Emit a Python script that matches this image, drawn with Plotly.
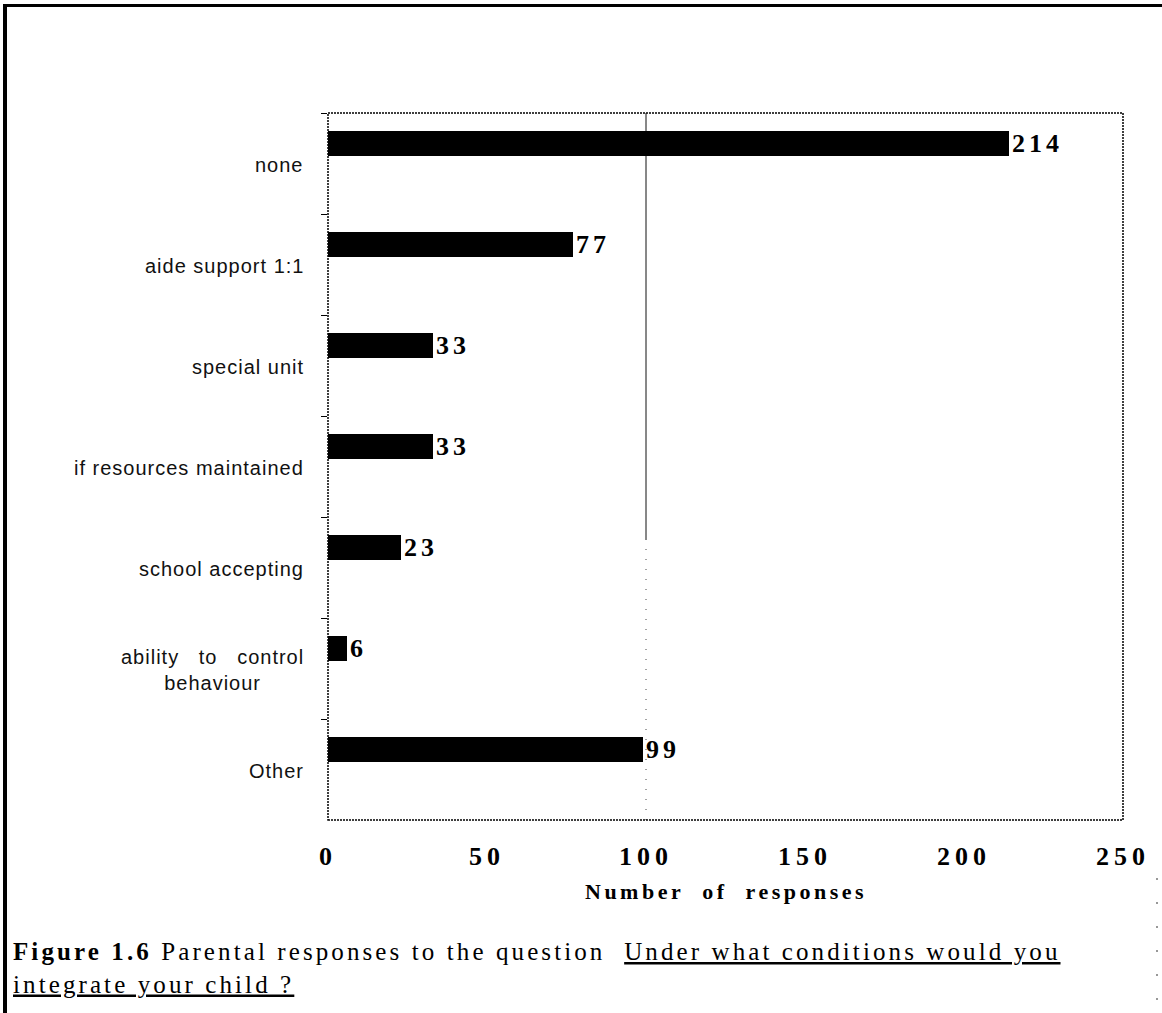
import plotly.graph_objects as go

# Survey results: conditions under which parents would integrate their child
categories = [
    "none",
    "aide support 1:1",
    "special unit",
    "if resources maintained",
    "school accepting",
    "ability to control behaviour",
    "Other",
]
category_labels = [
    "none",
    "aide support 1:1",
    "special unit",
    "if resources maintained",
    "school accepting",
    "ability\u00a0\u00a0 to\u00a0\u00a0 control<br>behaviour",
    "Other",
]
responses = [214, 77, 33, 33, 23, 6, 99]

x_tick_values = [0, 50, 100, 150, 200, 250]
x_tick_labels = ["0", "50", "100", "150", "200", "250"]
reference_value = 100

# Page geometry (pixels)
W, H = 1162, 1013
ML, MR, MT, MB = 328, 39, 113, 193
PW, PH = W - ML - MR, H - MT - MB


def px_x(px):
    return (px - ML) / PW


def px_y(py):
    return (H - MB - py) / PH


SERIF = "Liberation Serif, Times New Roman, serif"
SANS = "Liberation Sans, Arial, Helvetica, sans-serif"


def spaced(s, ls):
    return f'<span style="letter-spacing:{ls}px">{s}</span>'


fig = go.Figure()
fig.add_trace(
    go.Bar(
        x=responses,
        y=categories,
        orientation="h",
        width=0.25,
        offset=-0.32,
        marker=dict(color="#000000", line=dict(width=0)),
        text=[spaced(str(v), 4) for v in responses],
        textposition="outside",
        textfont=dict(family=SERIF, size=26, color="#000000", weight="bold"),
        constraintext="none",
        cliponaxis=False,
        hoverinfo="skip",
    )
)

annotations = []
# Category labels, right-aligned against the axis, lines centred
for cat, lab in zip(categories, category_labels):
    annotations.append(
        dict(
            x=px_x(306), xref="paper", xanchor="right",
            y=cat, yref="y", yanchor="middle", yshift=-1,
            text=spaced(lab, 1), showarrow=False, align="center",
            font=dict(family=SANS, size=20, color="#111111"),
        )
    )

# Axis title
annotations.append(
    dict(
        x=0.5, xref="paper", xanchor="center",
        y=px_y(891), yref="paper", yanchor="middle",
        text=spaced("<b>Number\u00a0 of\u00a0 responses</b>", 3.5),
        showarrow=False,
        font=dict(family=SERIF, size=22, color="#000000"),
    )
)

# Caption
caption = (
    "<b>Figure 1.6</b> Parental responses to the question\u00a0 "
    '<span style="text-decoration:underline">Under what conditions would you</span>'
    '<br><span style="text-decoration:underline">integrate your child ?</span>'
)
annotations.append(
    dict(
        x=px_x(11), xref="paper", xanchor="left",
        y=px_y(936), yref="paper", yanchor="top",
        text=spaced(caption, 3.1), showarrow=False, align="left",
        font=dict(family=SERIF, size=25, color="#000000"),
    )
)

shapes = [
    # Plot frame
    dict(type="rect", xref="paper", yref="paper", x0=0, x1=1, y0=0, y1=1,
         line=dict(color="#000000", width=1.5, dash="2px,1px"), layer="above"),
    # Reference line at 100 responses
    dict(type="line", xref="x", yref="paper", x0=reference_value, x1=reference_value,
         y0=px_y(540), y1=1, line=dict(color="#111111", width=1), layer="below"),
    dict(type="line", xref="x", yref="paper", x0=reference_value, x1=reference_value,
         y0=0, y1=px_y(540), line=dict(color="#444444", width=1, dash="1px,9px"), layer="below"),
    # Page border (left and top)
    dict(type="line", xref="paper", yref="paper", x0=px_x(5), x1=px_x(5),
         y0=px_y(5), y1=px_y(H), line=dict(color="#000000", width=4)),
    dict(type="line", xref="paper", yref="paper", x0=px_x(3), x1=px_x(W),
         y0=px_y(5.5), y1=px_y(5.5), line=dict(color="#000000", width=3)),
    # Faint trace of the right page border
    dict(type="line", xref="paper", yref="paper", x0=px_x(1157), x1=px_x(1157),
         y0=px_y(878), y1=px_y(1000), line=dict(color="#777777", width=1.5, dash="2px,22px")),
]

fig.update_layout(
    width=W, height=H,
    margin=dict(l=ML, r=MR, t=MT, b=MB, pad=0),
    paper_bgcolor="#ffffff", plot_bgcolor="#ffffff",
    showlegend=False,
    bargap=0,
    annotations=annotations,
    shapes=shapes,
    xaxis=dict(
        range=[0, 250], showgrid=False, zeroline=False, showline=False,
        ticks="", tickvals=x_tick_values,
        ticktext=[spaced(t, 5) for t in x_tick_labels],
        tickfont=dict(family=SERIF, size=26, color="#000000", weight="bold"),
        ticklabelstandoff=18,
    ),
    yaxis=dict(
        type="category", autorange="reversed", showgrid=False, zeroline=False,
        showline=False, showticklabels=False,
        ticks="outside", tickson="boundaries", ticklen=6, tickwidth=1,
        tickcolor="#000000",
    ),
)

fig.write_html("out.html")
